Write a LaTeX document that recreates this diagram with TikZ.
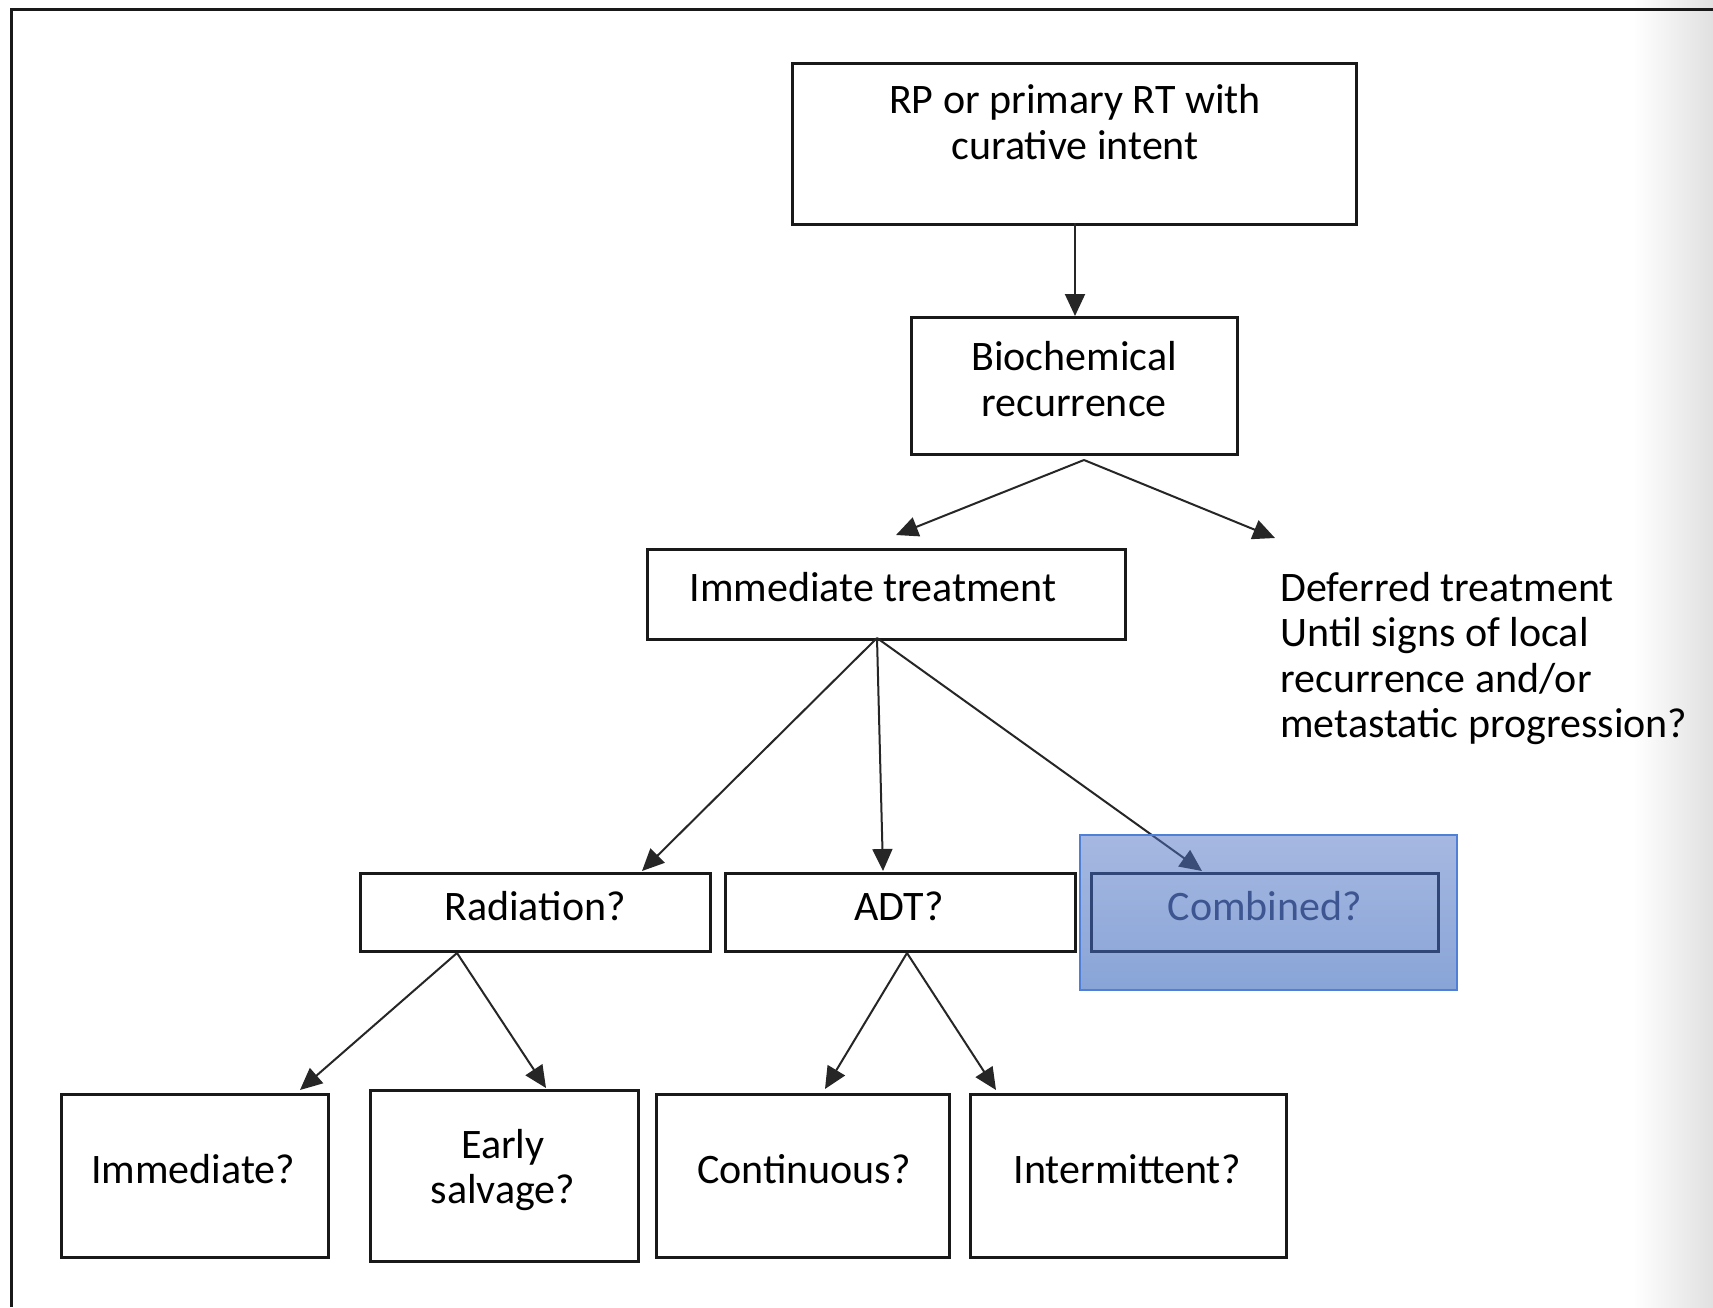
\documentclass[tikz,border=0pt]{standalone}
\usepackage{fontspec}
\setmainfont{Carlito}
\usetikzlibrary{arrows.meta}
\definecolor{navy}{HTML}{2F4676}
\definecolor{blueedge}{HTML}{4F7FD6}
\definecolor{bluetop}{HTML}{A6B8E1}
\definecolor{bluebot}{HTML}{88A4D7}
\definecolor{combtext}{HTML}{3D5590}
\definecolor{tintarrow}{HTML}{3A4C78}
\begin{document}
\begin{tikzpicture}[x=0.5pt,y=-0.5pt,
  box/.style={draw=black!90,line width=1.4pt,inner sep=0pt,anchor=north west},
  txt/.style={font=\fontsize{21}{22.7}\selectfont,align=center,inner sep=0pt},
  conn/.style={draw=black!85,line width=1pt,-{Triangle[length=11pt,width=10pt]}}]
\useasboundingbox (0,0) rectangle (1713,1307);
\fill[white] (0,0) rectangle (1713,1307);
\shade[left color=white,right color=black!12] (1633,0) rectangle (1713,1307);
\draw[line width=1.5pt,black!90] (11,1307) -- (11,9.5) -- (1713,9.5);
% boxes
\node[box,minimum width=282pt,minimum height=80.5pt] (rp) at (791,62) {};
\node[txt] (rpt) at (1075,122) {RP or primary RT with\\curative intent};
\node[box,minimum width=163pt,minimum height=68.5pt] (bc) at (910,316) {};
\node[txt] (bct) at (1074,379) {Biochemical\\recurrence};
\node[box,minimum width=239pt,minimum height=45pt] (it) at (646,548) {};
\node[txt] (itt) at (873,587) {Immediate treatment};
\node[txt,align=left,anchor=north west] (def) at (1280,572) {Deferred treatment\\Until signs of local\\recurrence and/or\\metastatic progression?};
\node[box,minimum width=175pt,minimum height=39pt] (rad) at (359,872) {};
\node[txt] (radt) at (535,906) {Radiation?};
\node[box,minimum width=175pt,minimum height=39pt] (adt) at (724,872) {};
\node[txt] (adtt) at (899,906) {ADT?};
\node[box,minimum width=133.5pt,minimum height=81.5pt] (imm) at (60,1093) {};
\node[txt] (immt) at (193,1169) {Immediate?};
\node[box,minimum width=134pt,minimum height=85.5pt] (es) at (369,1089) {};
\node[txt] (est) at (503,1170) {Early\\salvage?};
\node[box,minimum width=146.5pt,minimum height=81.5pt] (cont) at (655,1093) {};
\node[txt] (contt) at (804,1169) {Continuous?};
\node[box,minimum width=158pt,minimum height=81.5pt] (int) at (969,1093) {};
\node[txt] (intt) at (1127,1169) {Intermittent?};
% coordinates
\coordinate (rpb) at (1075,223);
\coordinate (bcin) at (1075,316);
\coordinate (fork) at (1084,460);
\coordinate (fl) at (896,535);
\coordinate (fr) at (1275,538);
\coordinate (itb) at (877,638);
\coordinate (radin) at (642,871);
\coordinate (adtin) at (883,871);
\coordinate (combin) at (1202,871);
\coordinate (radb) at (457,953);
\coordinate (immin) at (300,1090);
\coordinate (esin) at (546,1088);
\coordinate (adtb) at (907,953);
\coordinate (contin) at (825,1089);
\coordinate (intin) at (996,1090);
% connectors
\draw[conn] (rpb) -- (bcin);
\draw[conn] (fork) -- (fl);
\draw[conn] (fork) -- (fr);
\draw[conn] (itb) -- (radin);
\draw[conn] (itb) -- (adtin);
\draw[conn] (itb) -- (combin);
\draw[conn] (radb) -- (immin);
\draw[conn] (radb) -- (esin);
\draw[conn] (adtb) -- (contin);
\draw[conn] (adtb) -- (intin);
% combined highlight
\shade[top color=bluetop,bottom color=bluebot] (1080,835) rectangle (1457,990);
\begin{scope}
\clip (1080,835) rectangle (1457,990);
\draw[conn,draw=tintarrow,fill=tintarrow] (itb) -- (combin);
\end{scope}
\draw[blueedge,line width=0.6pt] (1080,835) rectangle (1457,990);
\node[box,draw=navy,line width=1.5pt,minimum width=173.5pt,minimum height=39pt] (comb) at (1090,872) {};
\node[txt,text=combtext] (combt) at (1265,906) {Combined?};
\end{tikzpicture}
\end{document}
